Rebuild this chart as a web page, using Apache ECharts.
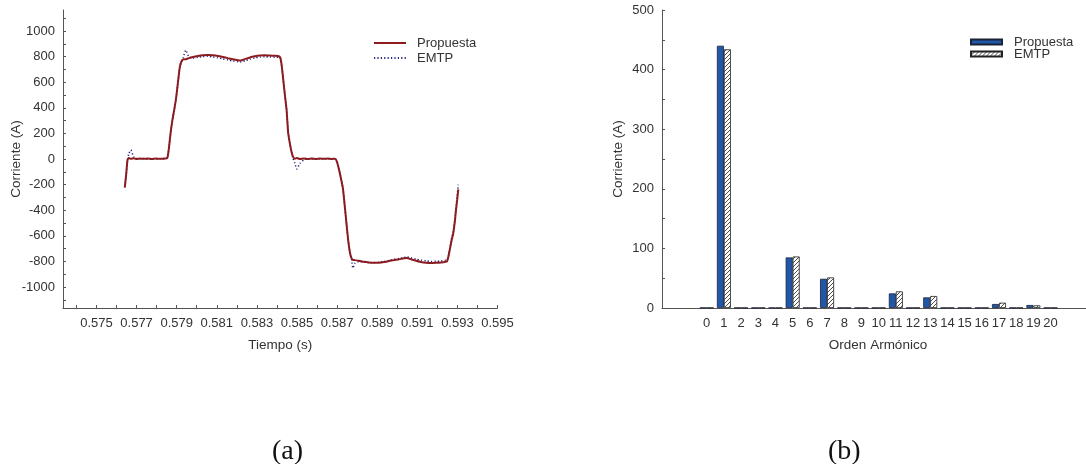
<!DOCTYPE html>
<html>
<head>
<meta charset="utf-8">
<script src="https://cdn.jsdelivr.net/npm/echarts@6/dist/echarts.min.js"></script>
<style>
  html, body { margin: 0; padding: 0; background: #fff; }
  #chart { width: 1086px; height: 464px; }
</style>
</head>
<body>
<div id="chart"></div>
<script>
// (a) current waveform over one cycle
const tiempo = [
  0.576412, 0.576487, 0.576547, 0.576612, 0.576712, 0.576861, 0.577011, 0.577161, 0.577360, 0.577560,
  0.577759, 0.577959, 0.578159, 0.578358, 0.578458, 0.578533, 0.578608, 0.578693, 0.578782, 0.578882,
  0.578957, 0.579057, 0.579157, 0.579232, 0.579321, 0.579456, 0.579606, 0.579805, 0.580055, 0.580304,
  0.580554, 0.580803, 0.581053, 0.581302, 0.581552, 0.581801, 0.582051, 0.582201, 0.582400, 0.582650,
  0.582899, 0.583149, 0.583398, 0.583648, 0.583897, 0.584097, 0.584172, 0.584246, 0.584321, 0.584396,
  0.584481, 0.584561, 0.584646, 0.584721, 0.584795, 0.584895, 0.584995, 0.585145, 0.585344, 0.585544,
  0.585743, 0.585943, 0.586143, 0.586342, 0.586542, 0.586741, 0.586891, 0.586991, 0.587091, 0.587191,
  0.587290, 0.587390, 0.587490, 0.587565, 0.587640, 0.587715, 0.587789, 0.587889, 0.588089, 0.588338,
  0.588588, 0.588837, 0.589087, 0.589336, 0.589586, 0.589835, 0.590085, 0.590334, 0.590484, 0.590684,
  0.590933, 0.591183, 0.591432, 0.591682, 0.591931, 0.592181, 0.592380, 0.592480, 0.592555, 0.592630,
  0.592705, 0.592794, 0.592879, 0.592929, 0.592989, 0.593044
];
const corrientePropuesta = [
  -224, -110, -8, 8, 2, 5, 0, 4, 1, 4,
  0, 3, 1, 3, 4, 8, 80, 200, 300, 390,
  460, 590, 720, 760, 778, 780, 788, 797, 805, 810,
  812, 810, 805, 797, 788, 779, 772, 770, 780, 793,
  802, 808, 811, 808, 806, 803, 790, 720, 610, 500,
  383, 203, 120, 60, 20, 2, 8, 0, 4, 0,
  3, 0, 4, 1, 3, 0, 2, -20, -80, -150,
  -230, -380, -540, -650, -730, -775, -788, -790, -795, -803,
  -808, -811, -810, -805, -797, -790, -784, -776, -773, -783,
  -795, -804, -810, -813, -811, -808, -804, -800, -760, -700,
  -640, -580, -480, -400, -320, -237
];
const corrienteEMTP = [
  -215, -110, -10, 40, 70, 15, 5, 0, 3, -2,
  3, 0, 2, -1, 5, 8, 75, 195, 295, 385,
  455, 585, 715, 755, 790, 850, 800, 788, 795, 800,
  802, 798, 790, 782, 774, 766, 760, 758, 766, 780,
  790, 796, 799, 797, 794, 795, 785, 718, 612, 505,
  390, 210, 125, 60, 10, -35, -78, -35, -5, 3,
  -2, 2, 0, 3, -1, 2, 3, -18, -78, -148,
  -228, -378, -538, -648, -728, -772, -852, -815, -800, -806,
  -810, -810, -806, -800, -792, -784, -777, -770, -766, -772,
  -782, -790, -796, -800, -799, -797, -792, -790, -752, -690,
  -625, -565, -465, -380, -292, -200
];
const tiempoEtiquetas = [0.575, 0.577, 0.579, 0.581, 0.583, 0.585, 0.587, 0.589, 0.591, 0.593, 0.595];
const tiempoMarcas = [0.574, 0.575, 0.576, 0.577, 0.578, 0.579, 0.580, 0.581, 0.582, 0.583, 0.584,
  0.585, 0.586, 0.587, 0.588, 0.589, 0.590, 0.591, 0.592, 0.593, 0.594, 0.595];
const corrienteEtiquetas = [-1000, -800, -600, -400, -200, 0, 200, 400, 600, 800, 1000];
const corrienteMarcas = [-1100, -1000, -900, -800, -700, -600, -500, -400, -300, -200, -100, 0,
  100, 200, 300, 400, 500, 600, 700, 800, 900, 1000, 1100];

// (b) harmonic spectrum
const ordenArmonico = [0, 1, 2, 3, 4, 5, 6, 7, 8, 9, 10, 11, 12, 13, 14, 15, 16, 17, 18, 19, 20];
const armonicoPropuesta = [0.4, 440, 0.4, 0.4, 0.4, 84.8, 0.4, 49, 0.4, 0.4, 0.4, 24.5, 0.4, 17.8, 0.4, 0.4, 0.4, 6.7, 0.4, 5.0, 0.4];
const armonicoEMTP = [0.4, 434, 0.4, 0.4, 0.4, 86.4, 0.4, 51.3, 0.4, 0.4, 0.4, 27.9, 0.4, 20.1, 0.4, 0.4, 0.4, 8.9, 0.4, 4.4, 0.4];

const FONT = '"Liberation Sans", Arial, Helvetica, sans-serif';
const TXT = '#333333';
const AXIS = '#555555';

// diagonal hatch used for the EMTP bars
function hatchPattern() {
  const s = 4;
  const c = document.createElement('canvas');
  c.width = s; c.height = s;
  const g = c.getContext('2d');
  g.fillStyle = '#ffffff';
  g.fillRect(0, 0, s, s);
  g.strokeStyle = '#222222';
  g.lineWidth = 0.8;
  g.beginPath();
  g.moveTo(0, s); g.lineTo(s, 0);
  g.moveTo(-1, 1); g.lineTo(1, -1);
  g.moveTo(s - 1, s + 1); g.lineTo(s + 1, s - 1);
  g.stroke();
  return c;
}
const hatch = { image: hatchPattern(), repeat: 'repeat' };

const pares = (xs, ys) => xs.map((x, i) => [x, ys[i]]);

const chart = echarts.init(document.getElementById('chart'), null, { renderer: 'canvas' });

const baseLabel = { color: TXT, fontFamily: FONT, fontSize: 13 };
const nameStyle = { color: TXT, fontFamily: FONT, fontSize: 13.5 };
const legendText = pad => Object.assign({ padding: [0, 0, 0, pad] }, baseLabel);

chart.setOption({
  animation: false,
  backgroundColor: '#ffffff',
  textStyle: { fontFamily: FONT },
  grid: [
    { left: 63, right: 588.5, top: 10, bottom: 156 },
    { left: 662, right: 0, top: 10, bottom: 156 }
  ],
  xAxis: [
    {
      gridIndex: 0, type: 'value', min: 0.57333, max: 0.595,
      name: 'Tiempo (s)', nameLocation: 'middle', nameGap: 30, nameTextStyle: nameStyle,
      nameMoveOverlap: false,
      axisLine: { show: true, onZero: false, lineStyle: { color: AXIS, width: 1 } },
      axisTick: { show: true, inside: true, length: 3, customValues: tiempoMarcas, lineStyle: { color: AXIS } },
      axisLabel: Object.assign({ margin: 9, customValues: tiempoEtiquetas, formatter: v => v.toFixed(3) }, baseLabel),
      splitLine: { show: false }
    },
    {
      gridIndex: 1, type: 'value', min: -2.6, max: 22.06,
      name: 'Orden Armónico', nameLocation: 'middle', nameGap: 30,
      nameMoveOverlap: false,
      nameTextStyle: Object.assign({ padding: [0, 0, 0, 8] }, nameStyle),
      axisLine: { show: true, onZero: false, lineStyle: { color: AXIS, width: 1 } },
      axisTick: { show: false },
      axisLabel: Object.assign({ margin: 9, customValues: ordenArmonico, formatter: v => String(Math.round(v)) }, baseLabel),
      splitLine: { show: false }
    }
  ],
  yAxis: [
    {
      gridIndex: 0, type: 'value', min: -1164, max: 1164,
      name: 'Corriente (A)', nameLocation: 'middle', nameGap: 40, nameTextStyle: nameStyle,
      nameMoveOverlap: false,
      axisLine: { show: true, onZero: false, lineStyle: { color: AXIS, width: 1 } },
      axisTick: { show: true, inside: true, length: 3, customValues: corrienteMarcas, lineStyle: { color: AXIS } },
      axisLabel: Object.assign({ margin: 8, customValues: corrienteEtiquetas, formatter: v => String(v) }, baseLabel),
      splitLine: { show: false }
    },
    {
      gridIndex: 1, type: 'value', min: 0, max: 500, interval: 100,
      name: 'Corriente (A)', nameLocation: 'middle', nameGap: 37, nameTextStyle: nameStyle,
      nameMoveOverlap: false,
      axisLine: { show: true, onZero: false, lineStyle: { color: AXIS, width: 1 } },
      axisTick: { show: true, inside: true, length: 3, lineStyle: { color: AXIS } },
      minorTick: { show: true, splitNumber: 2, length: 3, lineStyle: { color: AXIS } },
      axisLabel: Object.assign({ margin: 8, formatter: v => String(v) }, baseLabel),
      splitLine: { show: false }
    }
  ],
  legend: [
    {
      data: ['Propuesta|a'], left: 373, top: 36.5, padding: 0, itemWidth: 32, itemHeight: 14,
      itemStyle: { opacity: 0 },
      formatter: n => n.split('|')[0], textStyle: legendText(6)
    },
    {
      data: ['EMTP|a'], left: 373, top: 51.5, padding: 0, itemWidth: 32, itemHeight: 14,
      itemStyle: { opacity: 0 },
      formatter: n => n.split('|')[0], textStyle: legendText(6)
    },
    {
      data: ['Propuesta|b'], left: 970, top: 35.5, padding: 0, itemWidth: 31, itemHeight: 5, icon: 'rect',
      formatter: n => n.split('|')[0], textStyle: legendText(7)
    },
    {
      data: ['EMTP|b'], left: 970, top: 47.5, padding: 0, itemWidth: 31, itemHeight: 5, icon: 'rect',
      formatter: n => n.split('|')[0], textStyle: legendText(7)
    }
  ],
  graphic: [
    { type: 'text', left: 272, top: 438, style: { text: '(a)', font: '28px "Liberation Serif", "Times New Roman", serif', fill: '#111' } },
    { type: 'text', left: 828, top: 438, style: { text: '(b)', font: '28px "Liberation Serif", "Times New Roman", serif', fill: '#111' } }
  ],
  series: [
    {
      name: 'EMTP|a', type: 'line', xAxisIndex: 0, yAxisIndex: 0,
      data: pares(tiempo, corrienteEMTP), symbol: 'none', smooth: 0.2, z: 2,
      lineStyle: { color: '#23237a', width: 1.5, type: [1.2, 2.2] },
      itemStyle: { color: '#23237a' }
    },
    {
      name: 'Propuesta|a', type: 'line', xAxisIndex: 0, yAxisIndex: 0,
      data: pares(tiempo, corrientePropuesta), symbol: 'none', smooth: 0.2, z: 3,
      lineStyle: { color: '#8c1b20', width: 2 },
      itemStyle: { color: '#8c1b20' }
    },
    {
      name: 'Propuesta|b', type: 'bar', xAxisIndex: 1, yAxisIndex: 1,
      data: pares(ordenArmonico, armonicoPropuesta), barWidth: 7, barGap: '0%',
      itemStyle: { color: '#1f57a9', borderColor: '#1a2236', borderWidth: 0.8 }
    },
    {
      name: 'EMTP|b', type: 'bar', xAxisIndex: 1, yAxisIndex: 1,
      data: pares(ordenArmonico, armonicoEMTP), barWidth: 7, barGap: '0%',
      itemStyle: { color: hatch, borderColor: '#222222', borderWidth: 0.8 }
    }
  ]
});
</script>
</body>
</html>
